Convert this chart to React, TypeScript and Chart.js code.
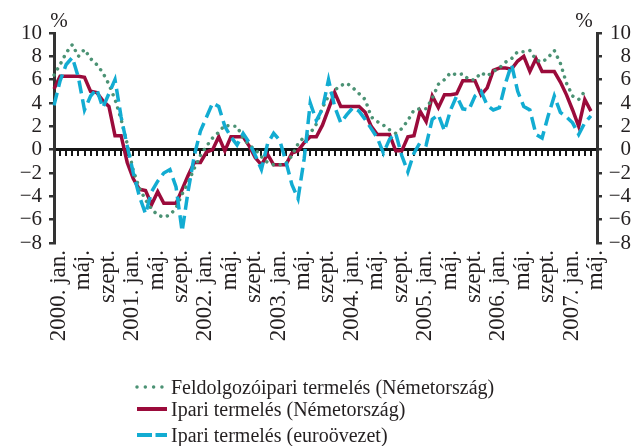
import React, { useEffect, useRef } from 'react';
import { Chart, registerables } from 'chart.js';

Chart.register(...registerables);

// ---- data ----
const years = [2000, 2001, 2002, 2003, 2004, 2005, 2006, 2007];
const monthCount = 90; // 2000 jan. .. 2007 jún.
const tickLabels: string[] = [];
for (let i = 0; i < monthCount; i++) {
  const y = years[Math.floor(i / 12)];
  const m = i % 12;
  tickLabels.push(m === 0 ? `${y}. jan.` : m === 4 ? 'máj.' : m === 8 ? 'szept.' : '');
}

const feldolgozoipariDE = [
  6.4, 7.3, 8.3, 9.0, 8.0, 8.6, 7.8, 7.3, 6.6, 5.6, 4.3, 2.6,
  0.5, -1.8, -3.3, -4.3, -5.1, -5.6, -5.8, -5.6, -5.0, -3.8, -2.8, -1.6,
  -0.5, 0.3, 1.0, 1.5, 2.1, 2.0, 2.0, 1.0, 0.4, 0.0, -0.6, -1.1,
  -1.3, -1.3, -1.2, -0.5, 0.5, 1.1, 1.4, 2.2, 3.6, 4.6, 5.1, 5.5,
  5.7, 5.3, 4.8, 4.3, 2.8, 2.4, 2.1, 1.7, 1.4, 1.8, 2.5, 3.4,
  3.5, 3.5, 4.4, 5.6, 6.0, 6.6, 6.4, 6.5, 6.0, 6.0, 6.6, 6.3,
  6.7, 7.0, 7.5, 7.8, 8.4, 8.4, 8.5, 7.7, 7.5, 7.9, 8.5, 7.4,
  5.7, 4.6, 4.3, 5.0, null, null,
];

const ipariDE = [
  5.2, 6.3, 6.3, 6.3, 6.3, 6.2, 5.0, 4.9, 4.2, 3.7, 1.2, 1.2,
  -1.1, -2.5, -3.4, -3.5, -4.7, -3.6, -4.6, -4.6, -4.6, -3.4, -2.2, -1.1,
  -1.1, -0.2, 0.0, 1.1, -0.1, 1.1, 1.1, 1.1, 0.3, -0.7, -1.3, -0.4,
  -1.3, -1.3, -1.3, -0.3, -0.1, 0.6, 1.1, 1.1, 2.1, 3.5, 4.9, 3.7,
  3.7, 3.7, 3.7, 3.2, 2.0, 1.3, 1.3, 1.3, -0.1, -0.1, 1.1, 1.2,
  3.3, 2.4, 4.6, 3.6, 4.7, 4.7, 4.8, 5.9, 5.9, 5.9, 4.7, 5.3,
  6.8, 7.0, 7.0, 6.9, 7.6, 8.0, 6.7, 7.8, 6.7, 6.7, 6.7, 5.8,
  4.7, 3.4, 2.0, 4.3, 3.3, null,
];

const ipariEuro = [
  3.8, 5.9, 7.3, 7.9, 6.2, 3.4, 4.6, 5.2, 3.6, 4.8, 6.0, 2.8,
  0.3, -2.0, -4.0, -5.5, -3.6, -2.7, -2.0, -1.7, -3.2, -7.0, -3.5, -0.5,
  1.6, 2.8, 4.0, 3.7, 2.0, 1.1, 0.4, 1.4, 0.6, -0.5, -1.7, 0.5,
  1.4, 0.8, -1.0, -3.0, -4.2, -0.8, 4.0, 2.5, 3.5, 6.0, 3.7, 2.3,
  3.0, 3.6, 3.3, 2.6, 1.8, 1.0, -0.3, 0.9, 1.4, -0.5, -1.9, -0.3,
  0.6, 0.4, 2.6, 3.0, 1.6, 3.4, 4.6, 3.5, 3.4, 4.6, 5.0, 3.8,
  3.4, 3.6, 5.7, 7.3, 5.0, 3.7, 3.4, 1.3, 1.0, 2.9, 4.6, 3.2,
  2.8, 2.3, 1.3, 2.3, 2.9, null,
];

const seriesNames = [
  'Feldolgozóipari termelés (Németország)',
  'Ipari termelés (Németország)',
  'Ipari termelés (euroövezet)',
];

const GREEN = '#4b9274';
const RED = '#9b0b3b';
const BLUE = '#12acd2';
const TEXT = '#231f20';
const FONT = '"Liberation Serif", "Times New Roman", serif';

const fmt = (v: number) => (v < 0 ? '\u2212' + Math.abs(v) : String(v));

const extrasPlugin = {
  id: 'extras',
  afterDraw(chart: any) {
    const ctx = chart.ctx;
    ctx.save();
    ctx.fillStyle = TEXT;
    ctx.font = `21px ${FONT}`;
    ctx.textAlign = 'center';
    ctx.textBaseline = 'alphabetic';
    ctx.fillText('%', 59, 27);
    ctx.fillText('%', 584, 27);

    const items = [
      { color: GREEN, dash: [0.01, 8.3], cap: 'round', width: 3.5, y: 387 },
      { color: RED, dash: [], cap: 'butt', width: 4, y: 409 },
      { color: BLUE, dash: [15, 3.5], cap: 'butt', width: 4, y: 435 },
    ];
    items.forEach((it, i) => {
      ctx.beginPath();
      ctx.strokeStyle = it.color;
      ctx.lineWidth = it.width;
      ctx.lineCap = it.cap;
      ctx.setLineDash(it.dash);
      ctx.moveTo(137, it.y);
      ctx.lineTo(167, it.y);
      ctx.stroke();
      ctx.setLineDash([]);
      ctx.font = `20px ${FONT}`;
      ctx.textAlign = 'left';
      ctx.fillStyle = TEXT;
      ctx.fillText(seriesNames[i], 171, it.y + 7);
    });
    ctx.restore();
  },
};

export default function App() {
  const ref = useRef<HTMLCanvasElement>(null);

  useEffect(() => {
    if (!ref.current) return;
    Chart.defaults.font.family = FONT;
    const chart = new Chart(ref.current, {
      type: 'line',
      data: {
        labels: tickLabels,
        datasets: [
          {
            label: seriesNames[2],
            data: ipariEuro,
            borderColor: BLUE,
            borderWidth: 3.5,
            borderDash: [13, 6],
            pointRadius: 0,
            tension: 0,
            fill: false,
            order: 0,
          },
          {
            label: seriesNames[0],
            data: feldolgozoipariDE,
            borderColor: GREEN,
            borderWidth: 3.5,
            borderDash: [0.01, 7],
            borderCapStyle: 'round',
            pointRadius: 0,
            tension: 0,
            fill: false,
            order: 1,
          },
          {
            label: seriesNames[1],
            data: ipariDE,
            borderColor: RED,
            borderWidth: 3.5,
            pointRadius: 0,
            tension: 0,
            fill: false,
            order: 2,
          },
        ],
      },
      options: {
        responsive: false,
        animation: false,
        devicePixelRatio: 1,
        layout: { padding: { top: 33, right: 7, bottom: 0, left: 0 } },
        plugins: { legend: { display: false }, tooltip: { enabled: false } },
        scales: {
          x: {
            type: 'category',
            position: 'bottom',
            offset: false,
            grid: { display: false, drawTicks: false },
            border: { display: false },
            ticks: {
              autoSkip: false,
              minRotation: 90,
              maxRotation: 90,
              padding: 7,
              labelOffset: 5,
              color: TEXT,
              font: { size: 23, family: FONT },
            },
            afterFit: (s: any) => { s.height = 203; },
          },
          x2: {
            type: 'category',
            position: { y: 0 },
            offset: false,
            grid: { display: true, drawOnChartArea: false, drawTicks: true, tickLength: 5, color: '#151515', lineWidth: 2 },
            border: { display: true, color: '#151515', width: 3 },
            ticks: { display: false, autoSkip: false },
          },
          y: {
            position: 'left',
            min: -8,
            max: 10,
            ticks: {
              stepSize: 2,
              autoSkip: false,
              padding: 7,
              color: TEXT,
              font: { size: 21, family: FONT },
              callback: (v: any) => fmt(Number(v)),
            },
            grid: { display: true, drawOnChartArea: false, drawTicks: true, tickLength: 5, color: '#333', lineWidth: 2.5 },
            border: { display: true, color: '#333', width: 3 },
            afterFit: (s: any) => { s.width = 54; },
          },
          y2: {
            position: 'right',
            min: -8,
            max: 10,
            ticks: {
              stepSize: 2,
              autoSkip: false,
              padding: 7,
              crossAlign: 'far',
              color: TEXT,
              font: { size: 21, family: FONT },
              callback: (v: any) => fmt(Number(v)),
            },
            grid: { display: true, drawOnChartArea: false, drawTicks: true, tickLength: 5, color: '#333', lineWidth: 2.5 },
            border: { display: true, color: '#333', width: 3 },
            afterFit: (s: any) => { s.width = 34; },
          },
        },
      },
      plugins: [extrasPlugin],
    } as any);
    return () => chart.destroy();
  }, []);

  return (
    <div style={{ position: 'absolute', left: 0, top: 0, width: 638, height: 446, background: '#fff' }}>
      <canvas ref={ref} width={638} height={446} style={{ display: 'block', width: 638, height: 446 }} />
    </div>
  );
}
